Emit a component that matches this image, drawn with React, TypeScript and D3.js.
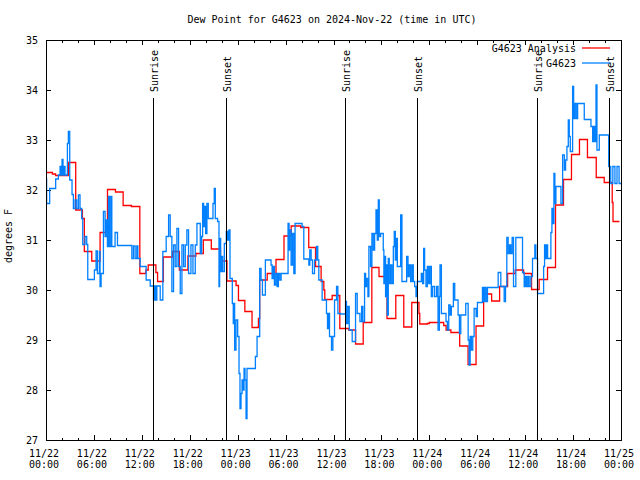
import React from "react";
import * as d3 from "d3";

// ---- data (hours since 2024-11-22 00:00 UTC, dew point °F) ----
const analysisHours = [0, 0.8, 1.2, 2.8, 3.72, 4.56, 4.8, 5.73, 6.77, 7.7, 8.7, 9.66, 10.7, 11.75, 12.5, 12.8, 13.76, 13.97, 14.7, 15.85, 16.7, 17.77, 18.77, 19.7, 20.7, 21.85, 22.66, 23.8, 24.1, 24.9, 25.8, 26.6, 26.76, 27.7, 28.8, 29.8, 30.7, 31.9, 32.9, 33.75, 34.45, 34.79, 34.91, 35.83, 36.79, 37.92, 38.76, 39.72, 40.8, 41.7, 42.7, 43.8, 44.8, 45.8, 46.7, 46.8, 47.75, 48.0, 49.8, 50.1, 50.7, 51.8, 52.85, 53.85, 54.8, 55.8, 56.8, 57.8, 58.75, 59.8, 60.8, 61.75, 62.8, 63.8, 64.8, 65.8, 66.8, 67.8, 68.9, 69.9, 70.9, 71.0, 71.8];
const analysisValues = [32.35, 32.32, 32.29, 32.55, 31.6, 31.43, 30.77, 30.58, 31.15, 32.01, 31.96, 31.69, 31.67, 30.33, 30.4, 30.5, 30.35, 30.17, 30.66, 30.77, 30.4, 30.68, 30.73, 31.0, 30.82, 30.58, 30.18, 30.09, 29.79, 29.57, 29.25, 29.43, 30.2, 30.33, 30.61, 31.08, 31.28, 31.25, 30.85, 30.47, 30.17, 30.0, 29.81, 29.89, 29.23, 29.2, 28.92, 29.35, 30.45, 30.27, 29.43, 29.89, 29.26, 29.75, 29.53, 29.32, 29.33, 29.35, 29.29, 29.2, 29.15, 28.88, 28.51, 29.28, 29.92, 29.78, 30.07, 30.33, 30.4, 30.33, 30.01, 30.21, 30.45, 31.7, 32.21, 32.71, 33.01, 32.65, 32.25, 32.15, 31.75, 31.37, 31.37];

const obsHours = [0.0, 0.08, 0.46, 1.21, 1.55, 1.76, 1.88, 2.01, 2.13, 2.26, 2.38, 2.68, 2.8, 2.97, 3.26, 3.43, 3.64, 3.85, 4.06, 4.26, 4.47, 4.6, 4.89, 5.1, 5.23, 6.06, 6.27, 6.44, 6.69, 6.77, 6.9, 7.19, 7.4, 7.53, 7.69, 7.82, 7.94, 8.11, 8.24, 8.65, 8.95, 10.75, 10.95, 11.16, 11.37, 11.5, 11.79, 12.54, 13.05, 13.46, 13.59, 13.72, 13.88, 14.3, 14.63, 15.05, 15.35, 15.55, 15.76, 15.97, 16.18, 16.39, 16.6, 16.81, 17.02, 17.23, 17.44, 17.64, 17.85, 18.15, 18.4, 18.69, 18.9,
  19.32, 19.49, 19.61, 19.74, 19.86, 19.99, 20.15, 20.32, 20.91, 21.07, 21.2, 21.49, 21.66, 21.74, 21.87, 21.99, 22.12, 22.33, 22.58, 22.75, 22.91, 23.04, 23.33, 23.45, 23.54, 23.62, 23.79, 24.0, 24.17, 24.29, 24.42, 24.55, 24.67, 24.8, 24.92, 25.05, 25.17, 26.22, 26.43, 26.76, 26.93, 27.1, 27.47, 28.18, 28.31, 28.44, 28.6, 28.77, 28.94, 29.1, 29.27, 29.44, 30.31, 30.44, 30.52, 30.69, 30.86, 31.03, 31.19, 32.07, 32.28, 32.91, 33.03, 33.2, 33.37, 33.62, 33.87, 34.03, 34.16, 34.58, 35.12, 35.25, 35.37, 35.5, 35.75, 35.92, 36.13, 36.38, 36.55, 36.88, 37.51, 37.63, 37.8, 37.97, 38.34, 38.76, 38.97, 39.31, 39.52, 39.68, 39.89, 40.02, 40.14, 40.31, 40.43, 40.64, 40.81, 40.98, 41.15, 41.32, 41.48, 41.61, 41.73,
  41.9, 42.23, 42.31, 42.44, 42.52, 42.65, 42.73, 42.86, 42.98, 43.15, 43.32, 43.49, 43.61, 43.74, 43.86, 43.99, 44.41, 44.57, 45.16, 45.33, 45.49, 45.66, 45.83, 45.99, 46.16, 46.33, 46.49, 47.0, 47.16, 47.29, 47.41, 47.58, 47.75, 47.92, 48.08, 48.25, 48.42, 48.67, 48.92, 49.09, 49.26, 49.34, 49.51, 50.09, 50.26, 50.43, 50.6, 50.76, 51.01, 51.18, 51.6, 51.77, 51.94, 52.56, 52.86, 52.98, 53.11, 53.27, 53.44, 53.61, 53.86, 54.02, 54.65, 54.78, 54.94, 55.11, 55.28, 56.62, 56.95, 57.37, 57.54, 57.7, 57.87, 58.04, 58.2, 58.37, 58.54, 58.83, 59.67, 59.88, 60.0, 60.17, 60.34, 60.5, 60.71, 60.92, 61.21, 61.34, 61.55, 62.31, 62.43, 62.56, 62.68, 62.81,
  63.22, 63.35, 63.47, 63.6, 63.72, 63.85, 64.48, 64.69, 64.9, 65.06, 65.23, 65.4, 65.52, 65.65, 65.94, 66.07, 66.23, 66.4, 66.57, 67.4, 68.24, 68.45, 68.58, 68.74, 68.87, 68.99, 69.28, 70.46, 70.72, 70.98, 71.24, 71.5, 71.76, 72.0];
const obsValues = [32.22, 31.73, 32.03, 32.22, 32.3, 32.47, 32.3, 32.61, 32.3, 32.47, 32.3, 32.93, 33.17, 32.2, 31.91, 31.63, 31.8, 31.63, 31.9, 31.63, 31.43, 30.91, 31.07, 30.91, 30.21, 30.4, 30.78, 30.33, 30.77, 30.07, 30.33, 31.57, 31.07, 31.4, 30.87, 31.87, 30.87, 31.87, 30.87, 31.15, 30.89, 30.63, 30.88, 30.63, 30.88, 30.63, 30.47, 30.2, 30.08, 29.8, 30.08, 29.8, 30.08, 29.8, 30.77, 31.07, 31.5, 31.07, 29.97, 30.9, 30.47, 31.23, 30.47, 29.93, 30.9, 30.47, 30.9, 31.2, 30.33, 30.9, 30.33, 30.9, 31.33,
  30.73, 31.07, 31.73, 31.27, 31.67, 31.13, 31.73, 31.43, 31.73, 32.03, 31.43, 31.37, 30.07, 31.03, 30.37, 30.67, 30.37, 30.93, 31.17, 31.0, 31.2, 30.23, 29.73, 29.33, 29.73, 28.8, 29.4, 29.07, 28.33, 27.63, 27.93, 28.2, 28.0, 28.43, 28.2, 27.43, 28.43, 28.67, 29.07, 30.43, 30.2, 29.9, 30.6, 30.5, 30.23, 30.47, 30.1, 30.33, 30.07, 30.33, 30.2, 30.33, 31.33, 30.8, 31.2, 30.5, 31.13, 30.33, 31.33, 31.27, 30.62, 30.5, 30.8, 30.6, 30.33, 30.6, 30.87, 30.6, 30.2, 29.8, 29.53, 29.23, 29.53, 29.07, 28.8, 29.07, 29.8, 30.07, 29.53, 29.52, 29.77, 29.33, 29.67, 29.2, 28.97, 29.93, 29.53, 29.37, 29.67, 29.37, 30.33, 30.07, 30.23, 29.87, 30.87, 30.47, 31.13, 30.8, 31.13, 31.6, 31.0, 31.8, 31.07,
  31.13, 30.8, 30.13, 30.67, 29.87, 30.5, 29.5, 30.63, 30.13, 30.5, 30.13, 30.87, 31.17, 30.6, 31.03, 30.47, 31.5, 30.17, 30.67, 30.27, 30.5, 30.17, 30.5, 30.17, 30.07, 29.87, 30.17, 30.33, 30.13, 30.83, 30.4, 30.07, 30.47, 30.13, 30.47, 29.87, 30.07, 29.87, 30.07, 29.2, 29.87, 30.5, 29.53, 29.37, 29.2, 29.7, 29.5, 29.67, 30.13, 29.8, 29.5, 29.13, 29.5, 29.73, 29.0, 28.5, 29.07, 28.8, 29.07, 29.63, 29.47, 29.75, 30.05, 29.77, 30.05, 29.77, 30.05, 30.35, 30.07, 29.77, 30.07, 31.05, 30.73, 30.9, 30.73, 31.05, 30.07, 31.05, 30.35, 30.07, 30.27, 30.07, 30.27, 30.07, 30.27, 30.63, 30.9, 30.63, 29.93, 30.47, 30.9, 30.63, 30.9, 30.63,
  31.15, 31.63, 31.33, 32.33, 31.73, 32.07, 31.73, 32.7, 32.4, 32.6, 32.87, 33.4, 33.07, 32.77, 34.07, 33.43, 33.73, 33.43, 33.73, 33.41, 33.27, 32.97, 33.27, 32.97, 34.1, 32.8, 33.1, 32.47, 32.13, 32.47, 32.13, 32.47, 32.13, 32.13];

const sunEvents = [
  { label: "Sunrise", hour: 13.44 },
  { label: "Sunset", hour: 22.54 },
  { label: "Sunrise", hour: 37.48 },
  { label: "Sunset", hour: 46.5 },
  { label: "Sunrise", hour: 61.52 },
  { label: "Sunset", hour: 70.54 },
];

const yTicks = [27, 28, 29, 30, 31, 32, 33, 34, 35];
const titleText = "Dew Point for G4623 on 2024-Nov-22 (time in UTC)";
const yLabel = "degrees F";
const seriesNames = ["G4623 Analysis", "G4623"];
const seriesColors = ["#ff0000", "#0080ff"];

const START = Date.UTC(2024, 10, 22, 0, 0);
const END = Date.UTC(2024, 10, 25, 0, 0);
const toDate = (h: number) => new Date(START + h * 3600000);

export default function App() {
  const W = 640, H = 480;
  const L = 46, R = 621, T = 40, B = 440;
  const font = "'DejaVu Sans Mono', monospace";

  const x = d3.scaleUtc().domain([new Date(START), new Date(END)]).range([L, R]);
  const y = d3.scaleLinear().domain([27, 35]).range([B, T]);

  const line = d3
    .line<[number, number]>()
    .x((d) => x(toDate(d[0])))
    .y((d) => y(d[1]))
    .curve(d3.curveStepAfter);

  const analysis: [number, number][] = analysisHours.map((h, i) => [h, analysisValues[i]]);
  const obs: [number, number][] = obsHours.map((h, i) => [h, obsValues[i]]);

  const majors = x.ticks(d3.utcHour.every(6)!);
  const minors = x.ticks(d3.utcHour.every(2)!).filter((d) => d.getUTCHours() % 6 !== 0);
  const fmtDate = d3.utcFormat("%m/%d");
  const fmtTime = d3.utcFormat("%H:%M");

  const px = (v: number) => Math.round(v) + 0.5;

  return (
    <svg width={W} height={H} style={{ position: "absolute", left: 0, top: 0, background: "#fff" }} fontFamily={font} fontSize={10}>
      <rect x={0} y={0} width={W} height={H} fill="#fff" />
      <text x={332} y={23} textAnchor="middle">{titleText}</text>
      <text transform={`translate(12,236) rotate(-90)`} textAnchor="middle">{yLabel}</text>

      {yTicks.map((t) => (
        <g key={"y" + t}>
          <line x1={L} x2={L + 5} y1={px(y(t))} y2={px(y(t))} stroke="#000" shapeRendering="crispEdges" />
          <line x1={R - 5} x2={R} y1={px(y(t))} y2={px(y(t))} stroke="#000" shapeRendering="crispEdges" />
          <text x={38} y={y(t) + 4} textAnchor="end">{t}</text>
        </g>
      ))}

      {majors.map((d, i) => (
        <g key={"mx" + i}>
          <line x1={px(x(d))} x2={px(x(d))} y1={B} y2={B - 5} stroke="#000" shapeRendering="crispEdges" />
          <line x1={px(x(d))} x2={px(x(d))} y1={T} y2={T + 5} stroke="#000" shapeRendering="crispEdges" />
          <text x={x(d) - 2} y={457} textAnchor="middle">{fmtDate(d)}</text>
          <text x={x(d) - 2} y={468} textAnchor="middle">{fmtTime(d)}</text>
        </g>
      ))}
      {minors.map((d, i) => (
        <g key={"mn" + i}>
          <line x1={px(x(d))} x2={px(x(d))} y1={B} y2={B - 2.5} stroke="#000" shapeRendering="crispEdges" />
          <line x1={px(x(d))} x2={px(x(d))} y1={T} y2={T + 2.5} stroke="#000" shapeRendering="crispEdges" />
        </g>
      ))}

      <path d={line(analysis) || ""} fill="none" stroke={seriesColors[0]} strokeWidth={1.3} />
      <path d={line(obs) || ""} fill="none" stroke={seriesColors[1]} strokeWidth={1.3} />

      {sunEvents.map((e, i) => {
        const sx = px(x(toDate(e.hour)));
        return (
          <g key={"s" + i}>
            <line x1={sx} x2={sx} y1={98} y2={B} stroke="#000" strokeWidth={1} shapeRendering="crispEdges" />
            <text transform={`translate(${sx + 4},92) rotate(-90)`} textAnchor="start">{e.label}</text>
          </g>
        );
      })}

      <rect x={L + 0.5} y={T + 0.5} width={R - L} height={B - T} fill="none" stroke="#000" shapeRendering="crispEdges" />

      {seriesNames.map((n, i) => (
        <g key={"lg" + i}>
          <text x={576} y={52 + i * 15} textAnchor="end">{n}</text>
          <line x1={582} x2={610} y1={48 + i * 15} y2={48 + i * 15} stroke={seriesColors[i]} strokeWidth={1.3} />
        </g>
      ))}
    </svg>
  );
}
